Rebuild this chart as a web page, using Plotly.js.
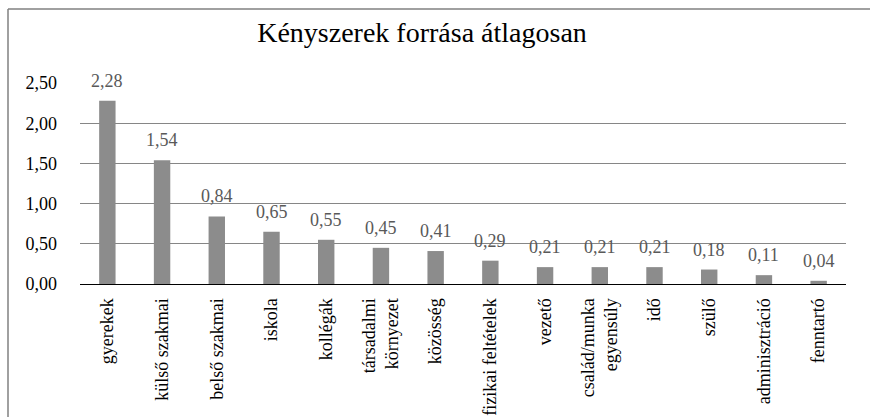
<!DOCTYPE html>
<html><head><meta charset="utf-8">
<script src="https://cdn.plot.ly/plotly-3.0.1.min.js"></script>
<style>html,body{margin:0;padding:0;background:#fff}#chart{width:870px;height:417px}</style>
</head><body><div id="chart"></div>
<script>
const categories = ["gyerekek","külső szakmai","belső szakmai","iskola","kollégák","társadalmi<br>környezet","közösség","fizikai feltételek","vezető","család/munka<br>egyensúly","idő","szülő","adminisztráció","fenntartó"];
const values = [2.28,1.54,0.84,0.65,0.55,0.45,0.41,0.29,0.21,0.21,0.21,0.18,0.11,0.04];
const yTickVals = [0,0.5,1,1.5,2,2.5];
const yTickText = ["0,00","0,50","1,00","1,50","2,00","2,50"];
const titleText = "Kényszerek forrása átlagosan";

const font = "Liberation Serif, DejaVu Serif, serif";
const fmt = v => v.toFixed(2).replace('.', ',');

const trace = {
  type: 'bar', x: categories, y: values,
  marker: {color: '#8c8c8c'}, width: 0.3, hoverinfo: 'skip'
};

const annotations = categories.map((c, i) => ({
  x: c, y: values[i], xref: 'x', yref: 'y', text: fmt(values[i]),
  showarrow: false, yanchor: 'middle', yshift: 20,
  font: {family: font, size: 18, color: '#595959'}
}));

const W = 766, H = 201;
const lx = (8 - 80) / W, ty = (284 - 9) / H, by = (284 - 430) / H, rx = (880 - 80) / W;

const layout = {
  width: 870, height: 417,
  margin: {l: 80, r: 24, t: 83, b: 133, pad: 0},
  paper_bgcolor: '#fff', plot_bgcolor: '#fff',
  title: {text: titleText, font: {family: font, size: 28, color: '#000'},
          xref: 'container', x: 422/870, xanchor: 'center', yref: 'container', y: 1 - 32/417, yanchor: 'middle'},
  showlegend: false,
  xaxis: {type: 'category', tickangle: -90, tickfont: {family: font, size: 18, color: '#000'},
          showgrid: false, showline: true, linecolor: '#000', linewidth: 1, ticks: '', zeroline: false,
          ticklabelstandoff: 6},
  yaxis: {range: [0, 2.5], tickvals: yTickVals, ticktext: yTickText, showgrid: true, gridcolor: '#868686', gridwidth: 1,
          zeroline: false, showline: false, ticks: '', tickfont: {family: font, size: 18, color: '#000'},
          ticklabelstandoff: 22},
  annotations: annotations,
  shapes: [
    {type: 'line', xref: 'paper', yref: 'paper', x0: lx, x1: lx, y0: by, y1: ty, line: {color: '#808080', width: 1.5}},
    {type: 'line', xref: 'paper', yref: 'paper', x0: lx, x1: rx, y0: ty, y1: ty, line: {color: '#808080', width: 1.5}}
  ]
};

Plotly.newPlot('chart', [trace], layout, {displayModeBar: false, staticPlot: true});
</script></body></html>
